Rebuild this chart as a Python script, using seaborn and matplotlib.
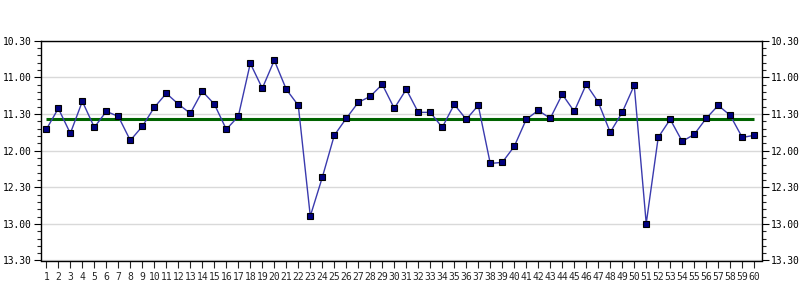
import matplotlib
matplotlib.use("Agg")
import matplotlib.pyplot as plt
from matplotlib.ticker import FixedLocator, MultipleLocator
import seaborn as sns
import pandas as pd

# Lap numbers and lap times (in minutes, 11.5 = 11:30)
laps = list(range(1, 61))
lap_times = [
    11.710, 11.424, 11.765, 11.328, 11.683, 11.465, 11.533, 11.861, 11.669, 11.410,
    11.219, 11.365, 11.492, 11.191, 11.365, 11.710, 11.533, 10.809, 11.150, 10.768,
    11.164, 11.383, 12.895, 12.366, 11.792, 11.560, 11.342, 11.260, 11.096, 11.424,
    11.164, 11.478, 11.478, 11.683, 11.369, 11.574, 11.383, 12.175, 12.161, 11.943,
    11.574, 11.451, 11.560, 11.232, 11.465, 11.096, 11.337, 11.751, 11.478, 11.109,
    12.995, 11.820, 11.574, 11.874, 11.779, 11.560, 11.383, 11.519, 11.820, 11.792,
]
average_time = 11.566
y_ticks = [10.5, 11.0, 11.5, 12.0, 12.5, 13.0, 13.5]
y_tick_labels = ["10.30", "11.00", "11.30", "12.00", "12.30", "13.00", "13.30"]

df = pd.DataFrame({"lap": laps, "time": lap_times})

sns.set_style("white")
plt.rcParams["font.family"] = ["DejaVu Sans Mono", "DejaVu Sans"]

fig = plt.figure(figsize=(8, 3), dpi=100)
ax = fig.add_axes([40.7 / 800, 1 - 260.5 / 300, (762 - 40.7) / 800, (260.5 - 40.7) / 300])

sns.lineplot(data=df, x="lap", y="time", ax=ax, color="#3a3aae", linewidth=1.0,
             marker="s", markersize=4.5, markerfacecolor="#000080",
             markeredgecolor="#000000", markeredgewidth=0.8, zorder=3)
ax.hlines(average_time, laps[0], laps[-1], color="#006400", linewidth=2.2, zorder=2)

ax.set_xlim(0.53, 60.65)
ax.set_ylim(13.5, 10.5)

ax.yaxis.set_major_locator(FixedLocator(y_ticks))
ax.set_yticklabels(y_tick_labels)
ax.yaxis.set_minor_locator(MultipleLocator(0.1))
ax.xaxis.set_major_locator(FixedLocator(laps))
ax.set_xticklabels([str(v) for v in laps])

ax.grid(axis="y", which="major", color="#d9d9d9", linewidth=1.0)
ax.grid(axis="x", visible=False)
ax.set_axisbelow(True)

ax.tick_params(axis="y", which="major", direction="out", length=5, width=0.8,
               left=True, right=True, labelleft=True, labelright=True,
               labelsize=6.9, pad=1.5, colors="black")
ax.tick_params(axis="y", which="minor", direction="out", length=3, width=0.8,
               left=True, right=True)
ax.tick_params(axis="x", which="major", direction="out", length=5, width=0.8,
               bottom=True, labelsize=7.0, pad=3)

for s in ax.spines.values():
    s.set_visible(True)
    s.set_color("black")
    s.set_linewidth(1.0)

ax.set_xlabel("")
ax.set_ylabel("")

fig.savefig("out.png", dpi=100)
